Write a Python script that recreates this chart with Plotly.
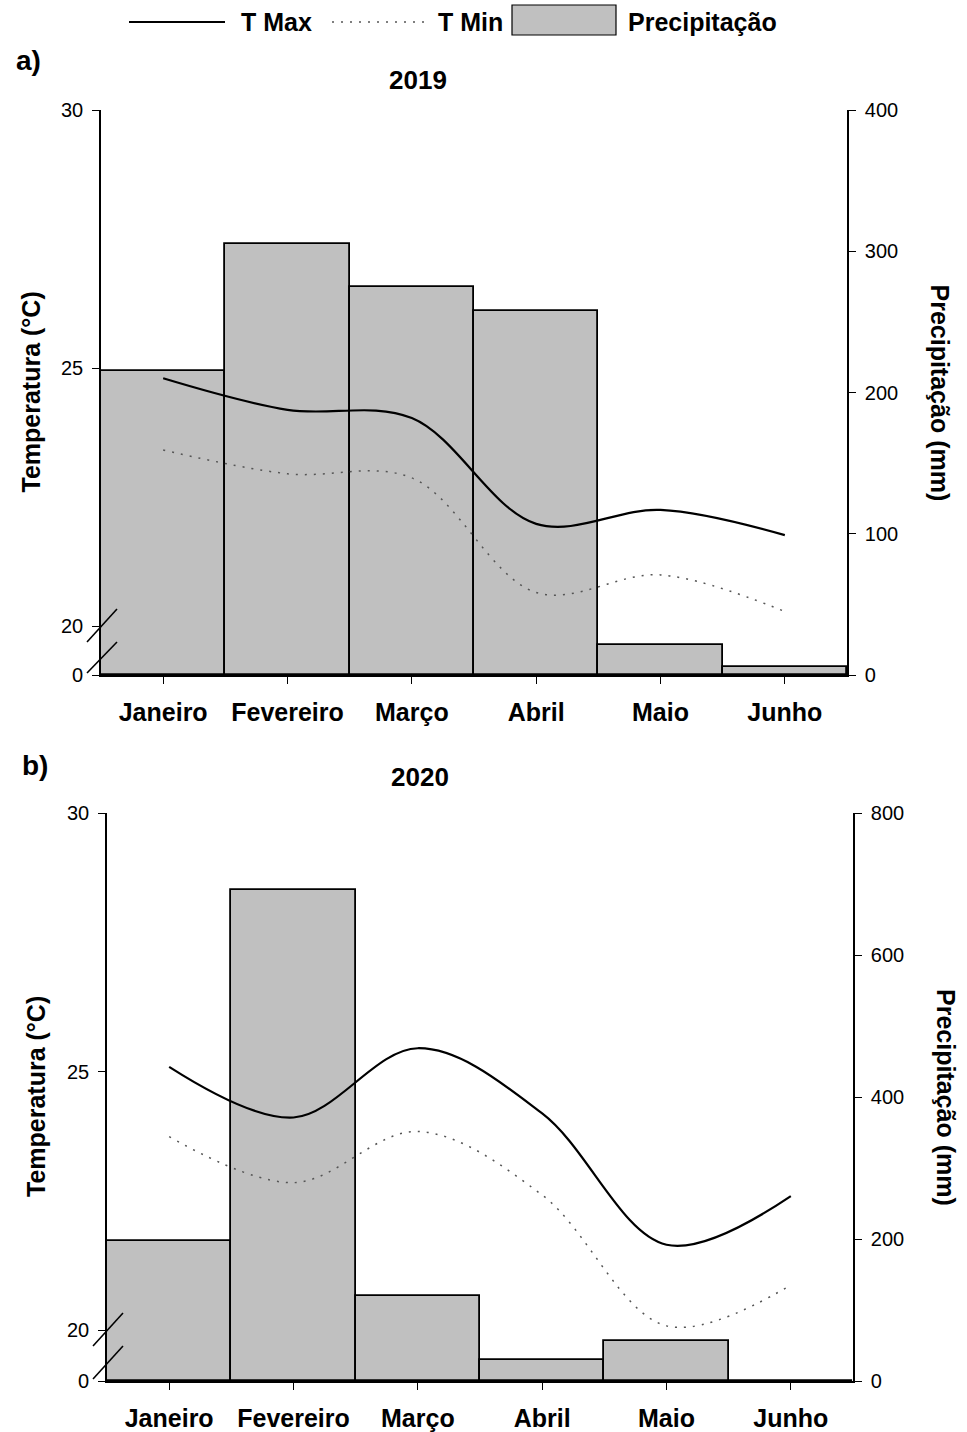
import plotly.graph_objects as go

# ---------------- data ----------------
meses = ["Janeiro", "Fevereiro", "Março", "Abril", "Maio", "Junho"]

tmax_2019 = [24.80, 24.19, 24.03, 21.98, 22.25, 21.76]
tmin_2019 = [23.41, 22.95, 22.87, 20.65, 20.99, 20.28]
prec_2019 = [215, 305, 275, 258, 21, 6]

tmax_2020 = [25.09, 24.11, 25.45, 24.19, 21.65, 22.59]
tmin_2020 = [23.74, 22.85, 23.84, 22.61, 20.08, 20.87]
prec_2020 = [197, 692, 120, 30, 56, 0]

temp_tick_text = ["0", "20", "25", "30"]
prec_ticks_2019 = [0, 100, 200, 300, 400]
prec_ticks_2020 = [0, 200, 400, 600, 800]

# ---------------- layout helpers ----------------
W, H = 967, 1432
def px(x):
    return x / W
def py(y):
    return 1 - y / H

FONT = "Liberation Sans, Arial, sans-serif"
BAR_FILL = "#c0c0c0"
TMIN_COLOR = "#555555"
TMIN_DASH = "2px,7px"

# panel pixel boxes (left, right, top, bottom)
pa = dict(l=101, r=847, t=110, b=675, y20=626)
pb = dict(l=107, r=853, t=813, b=1381, y20=1330)

def temp_low(p):
    # value at the bottom of the broken temperature axis
    per_deg = (p["y20"] - p["t"]) / 10.0
    return 20 - (p["b"] - p["y20"]) / per_deg

low_a = temp_low(pa)
low_b = temp_low(pb)

fig = go.Figure()

# bars first (primary y = precipitation), lines on overlaying temp axis
fig.add_trace(go.Bar(x=meses, y=prec_2019, xaxis="x", yaxis="y",
                     marker=dict(color=BAR_FILL, line=dict(color="black", width=1.8)),
                     width=1.0, showlegend=False, name="Precipitação"))
fig.add_trace(go.Scatter(x=meses, y=tmax_2019, xaxis="x", yaxis="y2", mode="lines",
                         line=dict(color="black", width=2.2, shape="spline", smoothing=1.0),
                         showlegend=False, name="T Max"))
fig.add_trace(go.Scatter(x=meses, y=tmin_2019, xaxis="x", yaxis="y2", mode="lines",
                         line=dict(color=TMIN_COLOR, width=1.5, dash=TMIN_DASH, shape="spline", smoothing=1.0),
                         showlegend=False, name="T Min"))

fig.add_trace(go.Bar(x=meses, y=prec_2020, xaxis="x2", yaxis="y3",
                     marker=dict(color=BAR_FILL, line=dict(color="black", width=1.8)),
                     width=1.0, showlegend=False, name="Precipitação"))
fig.add_trace(go.Scatter(x=meses, y=tmax_2020, xaxis="x2", yaxis="y4", mode="lines",
                         line=dict(color="black", width=2.2, shape="spline", smoothing=1.0),
                         showlegend=False, name="T Max"))
fig.add_trace(go.Scatter(x=meses, y=tmin_2020, xaxis="x2", yaxis="y4", mode="lines",
                         line=dict(color=TMIN_COLOR, width=1.5, dash=TMIN_DASH, shape="spline", smoothing=1.0),
                         showlegend=False, name="T Min"))

tick_font = dict(family=FONT, size=20, color="black")
month_font = dict(family=FONT, size=25, color="black", weight="bold")

def xaxis_cfg(p, anchor):
    return dict(domain=[px(p["l"]), px(p["r"])], anchor=anchor,
                range=[-0.5, 5.5], showline=True, linecolor="black", linewidth=1.6,
                ticks="outside", ticklen=7, tickwidth=1.4, tickcolor="black",
                tickfont=month_font, ticklabelstandoff=7,
                showgrid=False, zeroline=False, automargin=False, fixedrange=True)

def prec_axis_cfg(p, anchor, ticks):
    return dict(domain=[py(p["b"]), py(p["t"])], anchor=anchor, side="right",
                range=[ticks[0], ticks[-1]], tickvals=ticks,
                showline=True, linecolor="black", linewidth=1.6,
                ticks="outside", ticklen=7, tickwidth=1.4, tickcolor="black",
                tickfont=tick_font, ticklabelstandoff=5,
                showgrid=False, zeroline=False, automargin=False)

def temp_axis_cfg(p, anchor, overlay, low):
    return dict(anchor=anchor, overlaying=overlay, side="left",
                range=[low, 30], tickvals=[low, 20, 25, 30], ticktext=temp_tick_text,
                showline=True, linecolor="black", linewidth=1.6,
                ticks="outside", ticklen=7, tickwidth=1.4, tickcolor="black",
                tickfont=tick_font, ticklabelstandoff=5,
                showgrid=False, zeroline=False, automargin=False)

fig.update_layout(
    width=W, height=H,
    margin=dict(l=0, r=0, t=0, b=0),
    template="none",
    paper_bgcolor="white", plot_bgcolor="rgba(0,0,0,0)",
    bargap=0,
    showlegend=False,
    font=dict(family=FONT, color="black"),
    xaxis=xaxis_cfg(pa, "y"),
    yaxis=prec_axis_cfg(pa, "x", prec_ticks_2019),
    yaxis2=temp_axis_cfg(pa, "x", "y", low_a),
    xaxis2=xaxis_cfg(pb, "y3"),
    yaxis3=prec_axis_cfg(pb, "x2", prec_ticks_2020),
    yaxis4=temp_axis_cfg(pb, "x2", "y3", low_b),
)

annotations = []
shapes = []

def ann(text, x, y, size, angle=0, xanchor="center", bold=True):
    annotations.append(dict(text=text, x=px(x), y=py(y), xref="paper", yref="paper",
                            showarrow=False, textangle=angle, xanchor=xanchor, yanchor="middle",
                            font=dict(family=FONT, size=size, color="black",
                                      weight="bold" if bold else "normal")))

# panel labels and titles
ann("a)", 28, 60, 28)
ann("2019", 418, 80, 26)
ann("b)", 35, 765, 28)
ann("2020", 420, 777, 26)

for p in (pa, pb):
    yc = (p["t"] + p["b"]) / 2
    ann("Temperatura (°C)", p["l"] - 71, yc, 25, angle=-90)
    ann("Precipitação (mm)", p["r"] + 93, yc, 25, angle=90)

# axis break marks
def brk(p):
    x0, x1 = p["l"] - 14, p["l"] + 16
    for (ya, yb) in ((p["y20"] + 16, p["y20"] - 17), (p["b"] - 2, p["y20"] + 16)):
        shapes.append(dict(type="line", xref="paper", yref="paper",
                           x0=px(x0), y0=py(ya), x1=px(x1), y1=py(yb),
                           line=dict(color="black", width=1.6)))
brk(pa)
brk(pb)

# legend (drawn manually to match the reference's long samples)
shapes.append(dict(type="line", xref="paper", yref="paper",
                   x0=px(129), x1=px(225), y0=py(22), y1=py(22),
                   line=dict(color="black", width=2.2)))
shapes.append(dict(type="line", xref="paper", yref="paper",
                   x0=px(332), x1=px(428), y0=py(22), y1=py(22),
                   line=dict(color=TMIN_COLOR, width=1.5, dash=TMIN_DASH)))
shapes.append(dict(type="rect", xref="paper", yref="paper",
                   x0=px(512), x1=px(616), y0=py(35), y1=py(5),
                   fillcolor=BAR_FILL, line=dict(color="black", width=1.2)))
ann("T Max", 239, 22, 25, xanchor="left")
ann("T Min", 436, 22, 25, xanchor="left")
ann("Precipitação", 626, 22, 25, xanchor="left")

fig.update_layout(annotations=annotations, shapes=shapes)

fig.write_html("out.html")
